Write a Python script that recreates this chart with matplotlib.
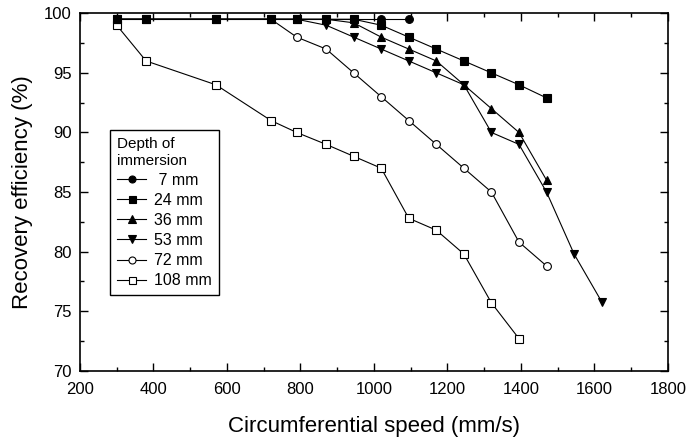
import numpy as np
import matplotlib
matplotlib.use("Agg")
import matplotlib.pyplot as plt
from matplotlib.ticker import MultipleLocator

plt.rcParams['font.family'] = ['Liberation Sans', 'DejaVu Sans']

# circumferential speed (mm/s)
speed = [300, 380, 570, 720, 790, 870, 945, 1020, 1095, 1170,
         1245, 1320, 1395, 1470, 1545, 1620]

# recovery efficiency (%) for each depth of immersion
eff_7 = [99.5, 99.5, 99.5, 99.5, 99.5, 99.5, 99.5, 99.5, 99.5]
eff_24 = [99.5, 99.5, 99.5, 99.5, 99.5, 99.5, 99.5, 99.0, 98.0, 97.0,
          96.0, 95.0, 94.0, 92.9]
eff_36 = [99.5, 99.5, 99.5, 99.5, 99.5, 99.5, 99.2, 98.0, 97.0, 96.0,
          94.0, 92.0, 90.0, 86.0]
eff_53 = [99.5, 99.5, 99.5, 99.5, 99.5, 99.0, 98.0, 97.0, 96.0, 95.0,
          94.0, 90.0, 89.0, 85.0, 79.8, 75.8]
eff_72 = [99.5, 99.5, 99.5, 99.5, 98.0, 97.0, 95.0, 93.0, 91.0, 89.0,
          87.0, 85.0, 80.8, 78.8]
eff_108 = [99.0, 96.0, 94.0, 91.0, 90.0, 89.0, 88.0, 87.0, 82.8, 81.8,
           79.8, 75.7, 72.7]

series = [
    (eff_7, 'o', 'black', ' 7 mm'),
    (eff_24, 's', 'black', '24 mm'),
    (eff_36, '^', 'black', '36 mm'),
    (eff_53, 'v', 'black', '53 mm'),
    (eff_72, 'o', 'white', '72 mm'),
    (eff_108, 's', 'white', '108 mm'),
]

fig = plt.figure(figsize=(6.87, 4.43), dpi=100)
ax = fig.add_axes([0.1164, 0.163, 0.8556, 0.807])

# open-marker series first so the filled ones sit on top
order = [5, 4, 3, 2, 1, 0]
handles = [None] * len(series)
for i in order:
    vals, mk, fc, lab = series[i]
    ms = 6.2 if mk in ('^', 'v') else 5.6
    h, = ax.plot(speed[:len(vals)], vals, color='black', lw=0.8,
                 marker=mk, markersize=ms, markerfacecolor=fc,
                 markeredgecolor='black', markeredgewidth=0.8, label=lab)
    handles[i] = h

ax.set_xlim(200, 1800)
ax.set_ylim(70, 100)
ax.xaxis.set_major_locator(MultipleLocator(200))
ax.xaxis.set_minor_locator(MultipleLocator(100))
ax.yaxis.set_major_locator(MultipleLocator(5))
ax.yaxis.set_minor_locator(MultipleLocator(2.5))
ax.tick_params(which='both', direction='in', top=True, right=True,
               labelsize=12, width=1)
ax.tick_params(which='major', length=6)
ax.tick_params(which='minor', length=3)
ax.tick_params(axis='x', pad=8)
ax.tick_params(axis='y', pad=6)
for s in ax.spines.values():
    s.set_linewidth(1.2)

ax.set_xlabel('Circumferential speed (mm/s)', fontsize=16, labelpad=14)
ax.set_ylabel('Recovery efficiency (%)', fontsize=16, labelpad=8)

leg = ax.legend(handles=handles, labels=[s[3] for s in series],
                title='Depth of\nimmersion', title_fontsize=11,
                fontsize=11.5, loc='upper left',
                bbox_to_anchor=(0.051, 0.673), borderaxespad=0,
                frameon=True, fancybox=False, edgecolor='black',
                framealpha=1, handlelength=1.8, handletextpad=0.5,
                labelspacing=0.32, markerscale=0.9, alignment='left',
                borderpad=0.45)
leg.get_frame().set_linewidth(1.0)

fig.savefig('out.png', dpi=100)
